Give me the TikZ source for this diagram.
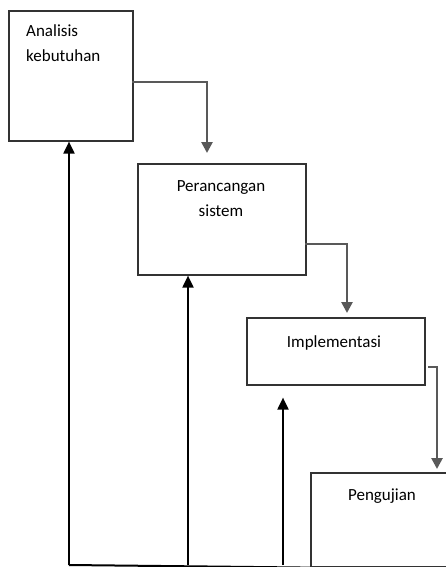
\documentclass[tikz,border=0pt]{standalone}
\usepackage{fontspec}
\setmainfont{Carlito}
\usetikzlibrary{arrows.meta,calc}
\begin{document}
\begin{tikzpicture}[x=1pt,y=-1pt,
  box/.style={draw=black!80,line width=1.6pt,rectangle,inner sep=0pt,anchor=north west},
  lbl/.style={font=\fontsize{17}{25}\selectfont,inner sep=0pt,anchor=base},
  down/.style={draw=black!65,line width=2.6pt,-{Triangle[width=11pt,length=11pt]}},
  up/.style={draw=black,line width=2pt,-{Triangle[width=11pt,length=12pt]}}]
\useasboundingbox (0,0) rectangle (446,567);
\node[box,minimum width=124pt,minimum height=130pt] (b1) at (8,10) {};
\node[box,minimum width=168pt,minimum height=111pt] (b2) at (137,163) {};
\node[box,minimum width=178pt,minimum height=67pt] (b3) at (246,317) {};
\node[box,minimum width=160pt,minimum height=94pt] (b4) at (310,472) {};
\node[lbl,anchor=base west] (t1a) at (26,37) {Analisis};
\node[lbl,anchor=base west] (t1b) at (26,62) {kebutuhan};
\node[lbl] (t2a) at (221,191) {Perancangan};
\node[lbl] (t2b) at (221,216) {sistem};
\node[lbl] (t3) at (334,347) {Implementasi};
\node[lbl] (t4) at (382,500) {Pengujian};
% downward flow
\coordinate (d1) at (132,82);
\coordinate (d2) at (305,244);
\coordinate (d3) at (428,367);
\draw[down,shorten >=10pt] (d1) -| (b2.north -| 207,0);
\draw[down,shorten >=4pt] (d2) -| (b3.north -| 347,0);
\draw[down,shorten >=3pt] (d3) -| (b4.north -| 437,0);
% feedback
\coordinate (base) at (69,565);
\coordinate (f2) at (188,565);
\coordinate (f3) at (283,565);
\draw[draw=black,line width=2pt] (b4.south west) -- (base);
\draw[up] (base) -- (b1.south -| base);
\draw[up] (f2) -- (b2.south -| f2);
\draw[up,shorten >=12pt] (f3) -- (b3.south -| f3);
\end{tikzpicture}
\end{document}
